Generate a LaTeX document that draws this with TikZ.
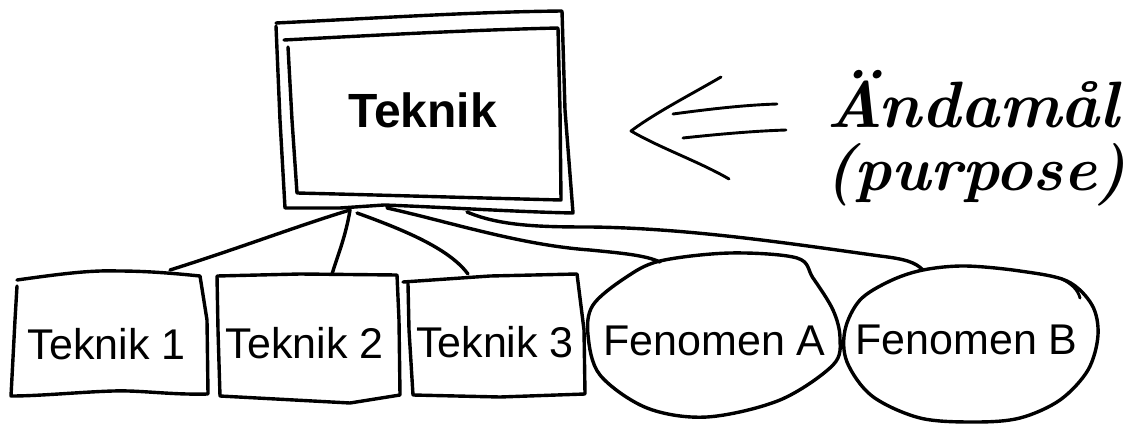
\documentclass[tikz,border=0pt]{standalone}
\usepackage{fontspec}
\usepackage{graphicx}
\newfontfamily\arialfont{Liberation Sans}
\begin{document}
\begin{tikzpicture}[x=1pt,y=-1pt,
  hand/.style={line width=3.4pt,line cap=round,line join=round},
  thin/.style={line width=2.9pt,line cap=round,line join=round},
  lbl/.style={font=\arialfont\fontsize{43}{45}\selectfont,inner sep=0pt,anchor=base},
  mainlbl/.style={font=\arialfont\bfseries\fontsize{48}{50}\selectfont,inner sep=0pt,anchor=base},
  script/.style={font=\bfseries\itshape,inner sep=0pt,anchor=base}]
\useasboundingbox (0,0) rectangle (1134,425);

% ---------- main box ----------
\draw[hand] (276,23) .. controls (380,18) and (470,12) .. (562,11) -- (565,110) -- (573,213)
  .. controls (520,212) and (440,207) .. (384,205) -- (340,208) -- (285,208) -- (280,120) -- (276,26);
\draw[hand] (284,40) .. controls (380,35) and (470,30) .. (558,28) -- (560,110) -- (561,200)
  .. controls (480,198) and (380,195) .. (297,193) -- (292,120) -- (288,47);
\node[mainlbl] (main) at (422.5,128) {Teknik};

% ---------- sub boxes ----------
\draw[hand] (17,280) .. controls (60,274) and (90,270) .. (118,271) .. controls (150,271) and (180,274) .. (200,276)
  -- (207,320) -- (208,394) .. controls (170,395) and (140,390) .. (113,391) .. controls (80,392) and (40,396) .. (11,396) -- (15,320) -- (17,286);
\node[lbl] (t1) at (106.5,359) {Teknik 1};

\draw[hand] (217,276) -- (300,274) -- (397,275) -- (399,320) -- (400,395) -- (350,403) -- (220,396) -- (218,330) -- cycle;
\node[lbl] (t2) at (304.5,358) {Teknik 2};

\draw[hand] (403,282) -- (490,276) -- (577,274) -- (584,330) -- (585,394) -- (500,397) -- (413,395) -- (409,330) -- (408,284);
\node[lbl] (t3) at (495,357) {Teknik 3};

% ---------- ellipses ----------
\draw[hand] plot[smooth cycle,tension=0.55] coordinates {(660,261) (730,253) (797,258) (813,278) (833,310) (840,338) (833,365) (780,400) (707,417) (647,408) (600,375) (588,335) (593,305) (625,278)};
\node[lbl] (fA) at (714.5,355) {Fenomen A};

\draw[hand] plot[smooth cycle,tension=0.55] coordinates {(923,270) (965,266) (1020,271) (1067,281) (1092,305) (1098,335) (1088,370) (1060,400) (1020,418) (975,422) (920,418) (872,396) (847,362) (845,330) (860,300) (890,281)};
\draw[thin] (1062,279) .. controls (1072,284) and (1078,290) .. (1080,298);
\node[lbl] (fB) at (966.5,354) {Fenomen B};

% ---------- connector points ----------
\coordinate (j1) at (350,210);
\coordinate (j2) at (357,213);
\coordinate (jA) at (387,208);
\coordinate (jB) at (467,212);
\coordinate (e1) at (170,270);
\coordinate (e2) at (332,274);
\coordinate (e3) at (468,274);
\coordinate (eA) at (660,262);
\coordinate (eB) at (923,270);

\draw[hand] (j1) .. controls (300,225) and (240,248) .. (e1);
\draw[hand] (j1) .. controls (346,235) and (338,255) .. (e2);
\draw[hand] (j2) .. controls (410,232) and (450,250) .. (e3);
\draw[hand] (jA) .. controls (450,222) and (520,245) .. (590,250) .. controls (620,253) and (645,255) .. (eA);
\draw[hand] (jB) .. controls (500,226) and (540,227) .. (590,227) .. controls (690,228) and (800,245) .. (880,256) .. controls (905,259) and (915,262) .. (eB);

% ---------- purpose arrow ----------
\coordinate (tip) at (631,131);
\coordinate (u1) at (721,77);
\coordinate (l1) at (729,179);
\draw[thin] (u1) .. controls (690,95) and (655,113) .. (tip) .. controls (660,148) and (700,162) .. (l1);
\draw[thin] (673,114) .. controls (710,109) and (745,105) .. (777,104);
\draw[thin] (683,138) .. controls (720,134) and (755,131) .. (786,130);

\node[script] (purpA) at (972.5,128) {\resizebox{293pt}{!}{\fontsize{68}{70}\selectfont Ändamål}};
\node[script] (purpB) at (975.5,190) {\resizebox{301pt}{!}{\fontsize{64}{66}\selectfont (purpose)}};
\end{tikzpicture}
\end{document}
